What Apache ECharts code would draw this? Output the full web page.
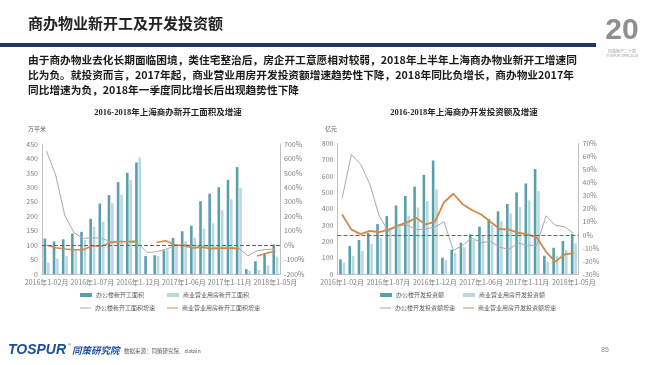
<!DOCTYPE html>
<html><head><meta charset="utf-8">
<script src="https://cdn.jsdelivr.net/npm/echarts@6/dist/echarts.min.js"></script>
<style>html,body{margin:0;padding:0;background:#fff}#c{width:650px;height:365px}</style>
</head><body><div id="c"></div>
<script>
// ---------- data ----------
var categories = ['2016年1-02月','2016年1-03月','2016年1-04月','2016年1-05月','2016年1-06月','2016年1-07月','2016年1-08月','2016年1-09月','2016年1-10月','2016年1-11月','2016年1-12月',
  '2017年1-02月','2017年1-03月','2017年1-04月','2017年1-05月','2017年1-06月','2017年1-07月','2017年1-08月','2017年1-09月','2017年1-10月','2017年1-11月','2017年1-12月',
  '2018年1-02月','2018年1-03月','2018年1-04月','2018年1-05月'];

// left chart: new construction area (万平米) and growth (%)
var officeArea = [123,113,120,140,146,191,244,273,318,350,386, 62,65,82,125,148,167,252,278,300,326,370, 17,44,71,102];
var commArea   = [39,53,62,82,118,164,181,245,274,325,403, null,63,85,100,114,126,157,175,221,259,298, 11,14,30,60];
var officeAreaGrowth = [650,484,203,86,47,51,47,24,28,23,12, -52,-45,-30,-5,5,-5,-10,-15,-15,-15,-20, -74,-39,-30,-28];
var commAreaGrowth   = [0,-18,-27,-32,-32,-5,-9,18,23,25,28, null,18,30,2,-5,-20,-15,-25,-22,-22,-25, null,-76,-57,-41];

// right chart: development investment (亿元) and growth (%)
var officeInv = [90,171,208,251,306,355,420,478,535,608,696, 100,149,192,243,290,337,384,429,500,555,643, 112,161,202,245];
var commInv   = [71,110,141,184,220,265,300,357,408,447,520, 86,128,165,208,232,300,322,371,410,451,508, 76,112,147,188];
var officeInvGrowth = [28,61.6,54,38.6,14.5,2.6,7,7.5,4,4.4,6,10, -12,-8,-2.5,-6,-5,-9.5,-11,-6.5,-8,-8, 14.6,7.4,6.2,1];
var commInvGrowth   = [15.6,4,0.6,3,2,4,7,9.5,13,8,10,25, 31.5,23.5,19,15.6,10,4.5,4,1.6,0.4,-2, -13,-20.5,-15,-14];

var leftTicks = {min:0,max:450,interval:50};
var leftPctTicks = {min:-200,max:700,interval:100};
var rightTicks = {min:0,max:800,interval:100};
var rightPctTicks = {min:-30,max:70,interval:10};

// ---------- styles ----------
var DARK = '#5a9fae', LIGHT = '#b9d9e1', GRAY = '#a9a9a9', ORANGE = '#d4884a';
var CJK = '"Noto Sans CJK SC", "Noto Sans", sans-serif';
var lbl = {fontSize:7, color:'#7f7f7f', fontFamily:CJK};
var axLine = {show:true, lineStyle:{color:'#bfbfbf', width:1}};

function xAx(g){ return {type:'category', gridIndex:g, data:categories, boundaryGap:true,
  axisLine:axLine, axisTick:{show:false},
  axisLabel:Object.assign({interval:4, margin:5, hideOverlap:false}, lbl), splitLine:{show:false}}; }
function yAx(g, t, pos, pct){ return {type:'value', gridIndex:g, position:pos, min:t.min, max:t.max, interval:t.interval,
  axisLine:axLine, axisTick:{show:false}, splitLine:{show:false},
  axisLabel:Object.assign({margin:4, formatter: pct ? '{value}%' : '{value}'}, lbl)}; }

function bar(name, data, x, y, color){ return {type:'bar', name:name, data:data, xAxisIndex:x, yAxisIndex:y,
  barWidth:2.6, barGap:'30%', itemStyle:{color:color}, emphasis:{disabled:true}}; }
function line(name, data, x, y, color, w, mark){ var s = {type:'line', name:name, data:data, xAxisIndex:x, yAxisIndex:y,
  symbol:'none', smooth:false, connectNulls:false, lineStyle:{color:color, width:w}, itemStyle:{color:color}, z:3};
  if(mark){ s.markLine = {silent:true, symbol:'none', label:{show:false},
    lineStyle:{type:'dashed', color:'#8b5555', width:1}, data:[{yAxis:0}]}; }
  return s; }

function leg(name, left, top, isLine){ return {data:[name], left:left, top:top, orient:'horizontal',
  icon:'rect', itemWidth: isLine ? 11 : 12, itemHeight: isLine ? 1 : 4, itemGap:4,
  textStyle:{fontSize:6, color:'#595959', fontFamily:CJK, padding:[0,0,0,-1]}, padding:0}; }

function txt(x, y, s, size, opts){ return {type:'text', x:x, y:y, silent:true,
  style:Object.assign({text:s, fontSize:size, fontFamily:CJK, fill:'#262626', textVerticalAlign:'middle', verticalAlign:'middle'}, opts||{})}; }

var option = {
  animation:false,
  backgroundColor:'#ffffff',
  grid:[
    {left:42, top:144, width:238, height:130},
    {left:337.5, top:143.5, width:241, height:130.5}
  ],
  xAxis:[xAx(0), xAx(1)],
  yAxis:[yAx(0,leftTicks,'left',false), yAx(0,leftPctTicks,'right',true),
         yAx(1,rightTicks,'left',false), yAx(1,rightPctTicks,'right',true)],
  legend:[
    leg('办公楼新开工面积', 80, 292, false),
    leg('商业营业用房新开工面积', 167, 292, false),
    leg('办公楼新开工面积增速', 80, 305, true),
    leg('商业营业用房新开工面积增速', 167, 305, true),
    leg('办公楼开发投资额', 380, 292, false),
    leg('商业营业用房开发投资额', 463, 292, false),
    leg('办公楼开发投资额增速', 380, 305, true),
    leg('商业营业用房开发投资额增速', 463, 305, true)
  ],
  series:[
    bar('办公楼新开工面积', officeArea, 0, 0, DARK),
    bar('商业营业用房新开工面积', commArea, 0, 0, LIGHT),
    line('办公楼新开工面积增速', officeAreaGrowth, 0, 1, GRAY, 1, false),
    line('商业营业用房新开工面积增速', commAreaGrowth, 0, 1, ORANGE, 1.5, true),
    bar('办公楼开发投资额', officeInv, 1, 2, DARK),
    bar('商业营业用房开发投资额', commInv, 1, 2, LIGHT),
    line('办公楼开发投资额增速', officeInvGrowth, 1, 3, GRAY, 1, false),
    line('商业营业用房开发投资额增速', commInvGrowth, 1, 3, ORANGE, 1.8, true)
  ],
  graphic:[
    {type:'rect', silent:true, shape:{x:0, y:43, width:596, height:4}, style:{fill:'#1f3864'}},
    txt(28, 23, '商办物业新开工及开发投资额', 15, {fontWeight:'bold', fill:'#222'}),
    txt(28, 60, '由于商办物业去化长期面临困境，类住宅整治后，房企开工意愿相对较弱，2018年上半年上海商办物业新开工增速同', 10.7, {fontWeight:'bold', fill:'#1a1a1a'}),
    txt(28, 75, '比为负。就投资而言，2017年起，商业营业用房开发投资额增速趋势性下降，2018年同比负增长，商办物业2017年', 10.7, {fontWeight:'bold', fill:'#1a1a1a'}),
    txt(28, 90, '同比增速为负，2018年一季度同比增长后出现趋势性下降', 10.7, {fontWeight:'bold', fill:'#1a1a1a'}),
    txt(168, 113, '2016-2018年上海商办新开工面积及增速', 8.5, {fontWeight:'bold', textAlign:'center', align:'center', fontFamily:'"Liberation Serif", "Noto Sans CJK SC", serif'}),
    txt(464, 113, '2016-2018年上海商办开发投资额及增速', 8.5, {fontWeight:'bold', textAlign:'center', align:'center', fontFamily:'"Liberation Serif", "Noto Sans CJK SC", serif'}),
    txt(28, 129, '万平米', 6, {fill:'#595959'}),
    txt(325, 129, '亿元', 6, {fill:'#595959'}),
    txt(622, 31, '20', 30, {fontWeight:'bold', textAlign:'center', align:'center', fill:'#8f8f8f', fontFamily:'"Liberation Sans", sans-serif'}),
    txt(622, 51, '同策地产二十载', 4, {textAlign:'center', align:'center', fill:'#a0a0a0'}),
    txt(622, 56, 'TOSPUR 1998-2018', 3.5, {textAlign:'center', align:'center', fill:'#a0a0a0', fontFamily:'"Liberation Sans", sans-serif'}),
    txt(8, 350, 'TOSPUR', 14, {fontWeight:'bold', fontStyle:'italic', fill:'#1d4e9e', fontFamily:'"Liberation Sans", sans-serif'}),
    txt(68, 345, '®', 4, {fill:'#1d4e9e', fontFamily:'"Liberation Sans", sans-serif'}),
    txt(72, 350, '同策研究院', 9.5, {fontWeight:'bold', fontStyle:'italic', fill:'#1d4e9e'}),
    txt(124, 351, '数据来源：同策研究院、datain', 5.5, {fill:'#595959'}),
    txt(601, 350, '85', 7, {fill:'#8c8c8c', fontFamily:'"Liberation Sans", sans-serif'})
  ]
};
var chart = echarts.init(document.getElementById('c'), null, {renderer:'canvas'});
chart.setOption(option);
</script></body></html>
